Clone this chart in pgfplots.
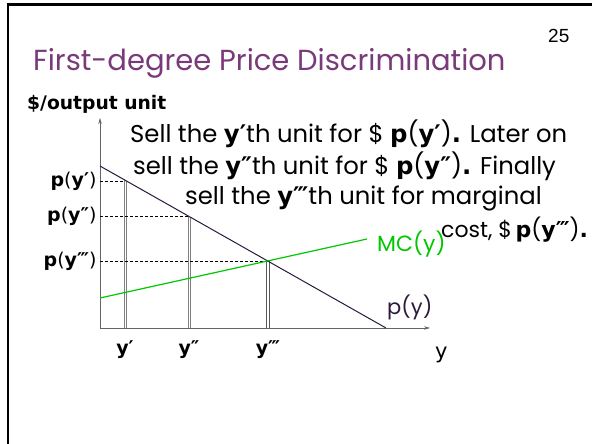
\documentclass[border=0pt]{standalone}
\usepackage{pgfplots}
\pgfplotsset{compat=1.18}
\usetikzlibrary{arrows.meta}
\usepackage{fontspec}
\setmainfont{Poppins}
\newfontfamily\dv{DejaVu Sans}
\newfontfamily\lib{Liberation Sans}
\definecolor{titlepurple}{RGB}{120,58,120}
\definecolor{demand}{RGB}{45,25,60}
\definecolor{mcgreen}{RGB}{0,200,0}
\definecolor{axisgray}{RGB}{100,100,100}
\newcommand{\B}[1]{{\dv\bfseries #1}}
\newcommand{\fs}[1]{\fontsize{#1}{#1}\selectfont}
\begin{document}
\begin{tikzpicture}[x=1pt,y=1pt]
\path[use as bounding box] (0,0) rectangle (592,444);
\clip (0,0) rectangle (592,444);
% slide frame
\draw[line width=2.7pt, black] (8,-5) -- (8,439.3) -- (600,439.3);
\begin{axis}[
  at={(100pt,116pt)}, anchor=south west,
  scale only axis, x=1pt, y=1pt,
  xmin=0, xmax=330, ymin=0, ymax=210,
  axis lines=left,
  axis line style={draw=axisgray, line width=0.6pt, -{Stealth[length=6pt,width=3.5pt]}},
  enlargelimits=false, clip=false,
  xtick={25,89,168}, xticklabels={y′,y″,y‴},
  ytick={146.8,111.6,66.8}, yticklabels={{\B{p}(\B{y′})},{\B{p}(\B{y″})},{\B{p}(\B{y‴})}},
  major tick length=0pt,
  xticklabel style={font=\dv\bfseries\fs{19}, yshift=-9pt},
  yticklabel style={font=\dv\fs{19}, xshift=0pt},
]
% vertical double lines (pairs of thin gray lines up to the demand curve)
\addplot[gray, line width=0.7pt, no marks] coordinates {(23.9,0) (23.9,148.5)};
\addplot[gray, line width=0.7pt, no marks] coordinates {(26.1,0) (26.1,147.2)};
\addplot[gray, line width=0.7pt, no marks] coordinates {(87.9,0) (87.9,112.2)};
\addplot[gray, line width=0.7pt, no marks] coordinates {(90.1,0) (90.1,111.0)};
\addplot[gray!70!black, line width=0.9pt, no marks] coordinates {(166.9,0) (166.9,67.5)};
\addplot[gray!70!black, line width=0.9pt, no marks] coordinates {(169.1,0) (169.1,66.7)};
\addplot[xcomb, draw=black, line width=0.5pt, dash pattern=on 3pt off 2pt, no marks]
  coordinates {(25,146.8) (89,111.6) (168,66.8)};
\addplot[demand, line width=1pt, no marks] coordinates {(0,162) (286,0)};
\addplot[mcgreen, line width=1.2pt, no marks] coordinates {(0,30) (267,89)};
\end{axis}
% texts
\node[anchor=base west, inner sep=0, text=titlepurple, font=\fs{29}] at (33,373) {First-degree Price Discrimination};
\node[anchor=base west, inner sep=0, font=\lib\fs{19}] at (548,401) {25};
\node[anchor=base west, inner sep=0, font=\dv\bfseries\fs{18.7}] at (27,334) {\$/output unit};
\node[anchor=base west, inner sep=0, font=\fs{24.3}] at (130,301) {Sell the \B{y′}th unit for \$ \B{p}(\B{y′})\B{.} Later on};
\node[anchor=base west, inner sep=0, font=\fs{24.3}] at (133,269) {sell the \B{y″}th unit for \$ \B{p}(\B{y″})\B{.} Finally};
\node[anchor=base west, inner sep=0, font=\fs{24.3}] at (185,239) {sell the \B{y‴}th unit for marginal};
\node[anchor=base west, inner sep=0, font=\fs{22}] at (441,206) {cost, \$\,\B{p}(\B{y‴})\B{.}};
\node[anchor=base west, inner sep=0, font=\fs{22}, text=mcgreen] at (377,192) {MC(y)};
\node[anchor=base west, inner sep=0, font=\fs{21}, text=demand] at (387,129) {p(y)};
\node[anchor=base west, inner sep=0, font=\dv\fs{21}] at (435,85) {y};
\end{tikzpicture}
\end{document}
